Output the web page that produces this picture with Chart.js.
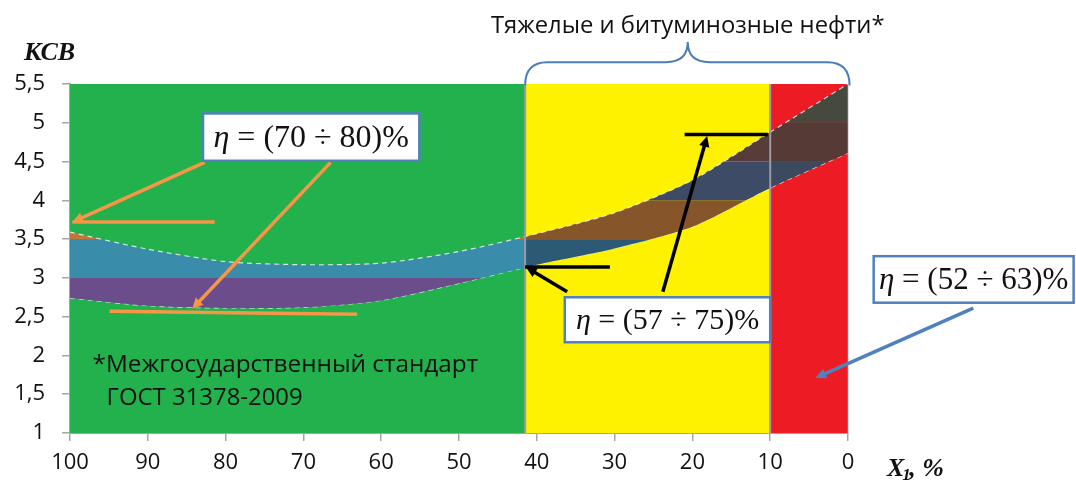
<!DOCTYPE html>
<html>
<head>
<meta charset="utf-8">
<script src="https://cdn.jsdelivr.net/npm/chart.js@4"></script>
<style>
  html, body { margin: 0; padding: 0; background: #fff; }
  #wrap { width: 1076px; height: 484px; }
</style>
</head>
<body>
<div id="wrap"><canvas id="ksvChart" width="1076" height="484"></canvas></div>
<script>
// water content X1, %
const xValues = [100, 90, 80, 70, 60, 50, 40, 30, 20, 10, 0];
// upper and lower edge of the KSV band
const upperKsv = [3.59, 3.37, 3.21, 3.17, 3.19, 3.34, 3.57, 3.84, 4.26, 4.88, 5.5];
const lowerKsv = [2.74, 2.64, 2.61, 2.62, 2.71, 2.93, 3.17, 3.38, 3.66, 4.16, 4.61];

// background zones (from X1, to X1)
const zoneBounds = [100, 41.5, 10, 0];
const zoneColors = ['#22b14c', '#fff200', '#ed1c24'];

// band colours by KSV level, one list per zone
const levelBounds = [2.5, 3, 3.5, 4, 4.5, 5, 5.5];
const levelColors = [
  ['#6b4d8c', '#3a8cab', '#c4763a', '#3e4e68', '#5a3d3a', '#4a4f42'],
  ['#4b3d6e', '#2c5a74', '#87552a', '#3d4b66', '#573c39', '#474b3f'],
  ['#4b3d6e', '#2c5a74', '#87552a', '#3c4a60', '#553a36', '#464a3e']
];

const yTicks = [1, 1.5, 2, 2.5, 3, 3.5, 4, 4.5, 5, 5.5];

const SANS = '"Open Sans", "Noto Sans", sans-serif';
const SERIF = '"Liberation Serif", "DejaVu Serif", serif';

function bandPattern(chart) {
    const area = chart.chartArea;
    if (!area) return 'rgba(60,120,160,0.8)';
    const xs = chart.scales.x, ys = chart.scales.y;
    const off = document.createElement('canvas');
    off.width = chart.width;
    off.height = chart.height;
    const c = off.getContext('2d');
    for (let z = 0; z < zoneColors.length; z++) {
        const xa = xs.getPixelForValue(zoneBounds[z]);
        const xb = xs.getPixelForValue(zoneBounds[z + 1]);
        for (let l = 0; l < levelColors[z].length; l++) {
            const ya = ys.getPixelForValue(levelBounds[l + 1]);
            const yb = ys.getPixelForValue(levelBounds[l]);
            c.fillStyle = levelColors[z][l];
            c.fillRect(xa, ya, xb - xa, yb - ya);
        }
    }
    return chart.ctx.createPattern(off, 'no-repeat');
}

function fitText(ctx, text, x, y, width, font, align) {
    ctx.font = '40px ' + font;
    const size = 40 * width / ctx.measureText(text).width;
    ctx.font = size.toFixed(1) + 'px ' + font;
    ctx.textAlign = align || 'left';
    ctx.fillText(text, x, y);
}

function arrow(ctx, x1, y1, x2, y2, color, width) {
    const ang = Math.atan2(y2 - y1, x2 - x1);
    const head = 12;
    ctx.strokeStyle = color;
    ctx.fillStyle = color;
    ctx.lineWidth = width;
    ctx.beginPath();
    ctx.moveTo(x1, y1);
    ctx.lineTo(x2 - Math.cos(ang) * head * 0.8, y2 - Math.sin(ang) * head * 0.8);
    ctx.stroke();
    ctx.beginPath();
    ctx.moveTo(x2, y2);
    ctx.lineTo(x2 - head * Math.cos(ang - 0.45), y2 - head * Math.sin(ang - 0.45));
    ctx.lineTo(x2 - head * Math.cos(ang + 0.45), y2 - head * Math.sin(ang + 0.45));
    ctx.closePath();
    ctx.fill();
}

function line(ctx, x1, y1, x2, y2, color, width) {
    ctx.strokeStyle = color;
    ctx.lineWidth = width;
    ctx.beginPath();
    ctx.moveTo(x1, y1);
    ctx.lineTo(x2, y2);
    ctx.stroke();
}

function etaBox(ctx, l, t, r, b, nums, size) {
    ctx.fillStyle = '#fff';
    ctx.fillRect(l, t, r - l, b - t);
    ctx.strokeStyle = '#4f81bd';
    ctx.lineWidth = 2.5;
    ctx.strokeRect(l, t, r - l, b - t);
    const parts = [
        ['italic ', '\u03b7'],
        ['', ' = (' + nums[0] + ' \u00f7 ' + nums[1] + ')%']
    ];
    ctx.textBaseline = 'middle';
    ctx.textAlign = 'left';
    let total = 0;
    parts.forEach(p => { ctx.font = p[0] + size + 'px ' + SERIF; total += ctx.measureText(p[1]).width; });
    let x = (l + r) / 2 - total / 2;
    const y = (t + b) / 2 + 1;
    ctx.fillStyle = '#111';
    parts.forEach(p => {
        ctx.font = p[0] + size + 'px ' + SERIF;
        ctx.fillText(p[1], x, y);
        x += ctx.measureText(p[1]).width;
    });
}

const zonesPlugin = {
    id: 'zones',
    beforeDatasetsDraw(chart) {
        const { ctx, chartArea: a, scales: { x: xs } } = chart;
        ctx.save();
        for (let z = 0; z < zoneColors.length; z++) {
            const xa = xs.getPixelForValue(zoneBounds[z]);
            const xb = xs.getPixelForValue(zoneBounds[z + 1]);
            ctx.fillStyle = zoneColors[z];
            ctx.fillRect(xa, a.top, xb - xa, a.bottom - a.top);
        }
        ctx.restore();
    },
    afterDatasetsDraw(chart) {
        const { ctx, chartArea: a, scales: { x: xs } } = chart;
        ctx.save();
        [zoneBounds[1], zoneBounds[2]].forEach(v => {
            const px = xs.getPixelForValue(v);
            line(ctx, px, a.top, px, a.bottom, '#9a9aa8', 2);
        });
        const pr = xs.getPixelForValue(zoneBounds[3]);
        line(ctx, pr, a.top, pr, a.bottom, 'rgba(170,170,180,0.7)', 1);
        ctx.restore();
    }
};

const notesPlugin = {
    id: 'notes',
    afterDraw(chart) {
        const { ctx, scales: { x: xs, y: ys } } = chart;
        const X = v => xs.getPixelForValue(v);
        const Y = v => ys.getPixelForValue(v);
        ctx.save();

        // axis titles
        ctx.fillStyle = '#111';
        ctx.textBaseline = 'middle';
        ctx.font = 'bold italic 26px ' + SERIF;
        ctx.textAlign = 'left';
        ctx.fillText('\u041a\u0421\u0412', 24, Y(5.9));
        const tx = X(-5);
        ctx.fillText('X', tx, 469);
        const xw = ctx.measureText('X').width;
        ctx.font = 'bold italic 17px ' + SERIF;
        ctx.fillText('1', tx + xw - 2, 476);
        ctx.font = 'bold italic 26px ' + SERIF;
        ctx.fillText(', %', tx + xw + 5, 469);

        // heavy oils caption and brace
        ctx.fillStyle = '#111';
        ctx.textBaseline = 'middle';
        fitText(ctx, '\u0422\u044f\u0436\u0435\u043b\u044b\u0435 \u0438 \u0431\u0438\u0442\u0443\u043c\u0438\u043d\u043e\u0437\u043d\u044b\u0435 \u043d\u0435\u0444\u0442\u0438*', X(20.6), 26, 393, SANS, 'center');
        const bl = X(41.5), br = X(-0.2), bm = X(20.6);
        const yEnd = Y(5.48), yFlat = Y(5.78), yTop = Y(6.04);
        ctx.strokeStyle = '#4a7ebb';
        ctx.lineWidth = 2;
        ctx.beginPath();
        ctx.moveTo(bl, yEnd);
        ctx.quadraticCurveTo(bl, yFlat, bl + 22, yFlat);
        ctx.lineTo(bm - 22, yFlat);
        ctx.quadraticCurveTo(bm, yFlat, bm, yTop);
        ctx.quadraticCurveTo(bm, yFlat, bm + 22, yFlat);
        ctx.lineTo(br - 22, yFlat);
        ctx.quadraticCurveTo(br, yFlat, br, yEnd);
        ctx.stroke();

        // standard note
        ctx.fillStyle = '#111';
        fitText(ctx, '*\u041c\u0435\u0436\u0433\u043e\u0441\u0443\u0434\u0430\u0440\u0441\u0442\u0432\u0435\u043d\u043d\u044b\u0439 \u0441\u0442\u0430\u043d\u0434\u0430\u0440\u0442', X(97.1), Y(1.88), 385, SANS);
        fitText(ctx, '\u0413\u041e\u0421\u0422 31378-2009', X(95.3), Y(1.45), 196, SANS);

        // orange callouts
        const orange = '#f79646';
        line(ctx, X(99.7), Y(3.72), X(81.4), Y(3.72), orange, 3.5);
        arrow(ctx, X(82.7), Y(4.49), X(99.7), Y(3.72), orange, 3.5);
        line(ctx, X(94.9), Y(2.57), X(63.1), Y(2.53), orange, 3.5);
        arrow(ctx, X(66.5), Y(4.49), X(84.3), Y(2.6), orange, 3.5);
        etaBox(ctx, X(82.9), Y(5.12), X(55.1), Y(4.51), [70, 80], 32);

        // black callouts
        line(ctx, X(41.5), Y(3.14), X(30.6), Y(3.14), '#000', 3.5);
        arrow(ctx, X(36.1), Y(2.82), X(41.4), Y(3.14), '#000', 3.5);
        line(ctx, X(21), Y(4.85), X(10.3), Y(4.85), '#000', 3.5);
        arrow(ctx, X(23.8), Y(2.82), X(18.1), Y(4.83), '#000', 3.5);
        etaBox(ctx, X(36.4), Y(2.75), X(10.0), Y(2.17), [57, 75], 30);

        // blue callout
        arrow(ctx, X(-16.1), Y(2.61), X(4.2), Y(1.71), '#4f81bd', 3.5);
        etaBox(ctx, X(-3.3), Y(3.28), X(-29.0), Y(2.68), [52, 63], 31);

        ctx.restore();
    }
};

const edgeStyle = {
    borderColor: 'rgba(235,245,240,0.85)',
    borderWidth: 1.2,
    borderDash: [5, 4],
    pointRadius: 0,
    tension: 0.25
};

new Chart(document.getElementById('ksvChart'), {
    type: 'line',
    data: {
        datasets: [
            Object.assign({
                label: 'upper',
                data: xValues.map((x, i) => ({ x: x, y: upperKsv[i] })),
                fill: '+1',
                backgroundColor: ctx => bandPattern(ctx.chart)
            }, edgeStyle),
            Object.assign({
                label: 'lower',
                data: xValues.map((x, i) => ({ x: x, y: lowerKsv[i] })),
                fill: false
            }, edgeStyle)
        ]
    },
    options: {
        responsive: false,
        animation: false,
        layout: { padding: { left: 0, right: 228, top: 84, bottom: 0 } },
        plugins: {
            legend: { display: false },
            tooltip: { enabled: false }
        },
        scales: {
            x: {
                type: 'linear',
                reverse: true,
                min: 0,
                max: 100,
                afterFit: s => { s.height = 51; },
                ticks: {
                    stepSize: 10,
                    color: '#111',
                    padding: 9,
                    font: { family: SANS, size: 22 }
                },
                grid: { drawOnChartArea: false, color: '#a6a6a6', tickLength: 8, lineWidth: 1.5 },
                border: { color: '#a6a6a6', width: 2 }
            },
            y: {
                min: 1,
                max: 5.5,
                afterFit: s => { s.width = 70; },
                afterBuildTicks: s => { s.ticks = yTicks.map(v => ({ value: v })); },
                ticks: {
                    color: '#111',
                    padding: 17,
                    font: { family: SANS, size: 22 },
                    callback: v => String(v).replace('.', ',')
                },
                grid: { drawOnChartArea: false, color: '#a6a6a6', tickLength: 8, lineWidth: 1.5 },
                border: { color: '#a6a6a6', width: 2 }
            }
        }
    },
    plugins: [zonesPlugin, notesPlugin]
});
</script>
</body>
</html>
